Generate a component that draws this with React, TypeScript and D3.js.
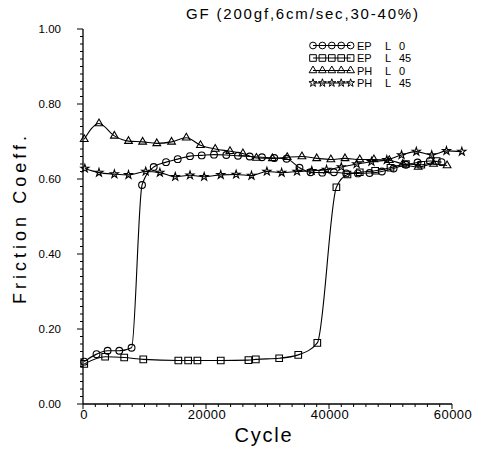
import React from 'react';
import * as d3 from 'd3';

const title = 'GF (200gf,6cm/sec,30-40%)';
const xLabel = 'Cycle';
const yLabel = 'Friction Coeff.';
const xTicks = [0, 20000, 40000, 60000];
const yTicks = [0, 0.2, 0.4, 0.6, 0.8, 1.0];
const seriesNames = ['EP L 0', 'EP L 45', 'PH L 0', 'PH L 45'];
const seriesSymbols = ['circle', 'square', 'triangle', 'star'];

const epL0Cycle = [200, 2200, 4000, 5900, 7900, 9600, 11500, 13500, 15400, 17400, 19300, 21300, 23300, 25200, 27100, 29100, 31100, 33100, 35200, 37000, 38900, 40800, 42800, 44700, 46600, 48600, 50500, 52500, 54400, 56400, 58300];
const epL0Coeff = [0.113, 0.133, 0.142, 0.142, 0.150, 0.584, 0.632, 0.645, 0.653, 0.661, 0.663, 0.665, 0.664, 0.662, 0.660, 0.658, 0.656, 0.654, 0.630, 0.618, 0.617, 0.618, 0.615, 0.615, 0.616, 0.620, 0.628, 0.638, 0.644, 0.648, 0.645];

const epL45Cycle = [200, 3600, 6700, 9800, 15500, 17100, 18600, 22400, 26900, 28100, 31900, 35000, 38100, 41200, 43000, 45000, 47500, 50000, 52500, 55000, 57500];
const epL45Coeff = [0.107, 0.126, 0.124, 0.119, 0.116, 0.116, 0.116, 0.116, 0.117, 0.119, 0.122, 0.131, 0.163, 0.578, 0.612, 0.618, 0.622, 0.630, 0.640, 0.638, 0.648];

const phL0Cycle = [200, 2600, 5100, 7400, 9700, 12000, 14400, 16800, 19100, 21500, 23900, 26000, 28200, 30800, 33200, 35600, 38000, 40300, 42600, 45000, 47300, 49800, 52000, 54500, 57000, 59200];
const phL0Coeff = [0.706, 0.748, 0.715, 0.701, 0.699, 0.695, 0.699, 0.710, 0.690, 0.680, 0.674, 0.668, 0.656, 0.655, 0.658, 0.660, 0.655, 0.652, 0.655, 0.652, 0.652, 0.650, 0.640, 0.632, 0.640, 0.636];

const phL45Cycle = [300, 2600, 5100, 7400, 10200, 12500, 15000, 17400, 19700, 22400, 24900, 27400, 29900, 32300, 34800, 37200, 39600, 42000, 44500, 46900, 49400, 51800, 54200, 56700, 59100, 61600];
const phL45Coeff = [0.628, 0.617, 0.613, 0.611, 0.620, 0.617, 0.606, 0.610, 0.606, 0.611, 0.612, 0.609, 0.620, 0.617, 0.620, 0.622, 0.625, 0.632, 0.640, 0.646, 0.651, 0.664, 0.673, 0.664, 0.675, 0.673];

const seriesCycles = [epL0Cycle, epL45Cycle, phL0Cycle, phL45Cycle];
const seriesCoeffs = [epL0Coeff, epL45Coeff, phL0Coeff, phL45Coeff];

const W = 479;
const H = 450;
const FONT = '"Liberation Sans", Arial, sans-serif';

const x = d3.scaleLinear().domain([0, 60000]).range([83, 452]);
const y = d3.scaleLinear().domain([0, 1]).range([404, 29]);

const symbolPath: Record<string, string> = {
  circle: d3.symbol(d3.symbolCircle, 36)() as string,
  square: d3.symbol(d3.symbolSquare, 44)() as string,
  triangle: d3.symbol(d3.symbolTriangle, 26)() as string,
  star: d3.symbol(d3.symbolStar, 20)() as string,
};

const line = d3
  .line<[number, number]>()
  .x((d) => x(d[0]))
  .y((d) => y(d[1]))
  .curve(d3.curveMonotoneX);

export default function App() {
  const xMinor = d3.range(0, 60001, 2000);
  const yMinor = d3.range(0, 1.0001, 0.02);
  const legendX0 = 313;
  const legendStep = 9.4;
  const legendY0 = 45.5;
  const legendDy = 12.5;

  return (
    <svg
      width={W}
      height={H}
      viewBox={`0 0 ${W} ${H}`}
      style={{ position: 'absolute', left: 0, top: 0, background: '#fff' }}
      fontFamily={FONT}
    >
      <rect x={0} y={0} width={W} height={H} fill="#fff" />
      <text x={302} y={19} fontSize={15} textAnchor="middle" textLength={232} lengthAdjust="spacing" fill="#000">
        {title}
      </text>

      {/* axes */}
      <line x1={x(0)} x2={x(60000)} y1={y(0)} y2={y(0)} stroke="#000" strokeWidth={1.3} />
      <line x1={x(0)} x2={x(0)} y1={y(0)} y2={y(1)} stroke="#000" strokeWidth={1.3} />
      {xMinor.map((v) => {
        const major = v % 20000 === 0;
        return (
          <line key={'xm' + v} x1={x(v)} x2={x(v)} y1={y(0)} y2={y(0) + (major ? 5 : 3)} stroke="#000" strokeWidth={1} />
        );
      })}
      {yMinor.map((v) => {
        const major = Math.abs(Math.round(v * 5) - v * 5) < 1e-6;
        return (
          <line key={'ym' + v} x1={x(0) - (major ? 6 : 3)} x2={x(0)} y1={y(v)} y2={y(v)} stroke="#000" strokeWidth={1} />
        );
      })}
      {xTicks.map((v) => (
        <text key={'xt' + v} x={x(v) + 1} y={419} fontSize={13} textAnchor="middle" fill="#000" letterSpacing={0.5}>
          {String(v)}
        </text>
      ))}
      {yTicks.map((v) => (
        <text key={'yt' + v} x={61} y={y(v) + 4} fontSize={11.5} textAnchor="end" fill="#000">
          {v.toFixed(2)}
        </text>
      ))}
      <text x={263} y={442} fontSize={20} textAnchor="middle" textLength={57} lengthAdjust="spacing" fill="#000">
        {xLabel}
      </text>
      <text
        transform={`translate(26,220) rotate(-90)`}
        fontSize={18}
        textAnchor="middle"
        textLength={168}
        lengthAdjust="spacing"
        fill="#000"
      >
        {yLabel}
      </text>

      {/* series */}
      {seriesCycles.map((cyc, i) => {
        const pts: [number, number][] = cyc.map((c, j) => [c, seriesCoeffs[i][j]]);
        return (
          <g key={'s' + i}>
            <path d={line(pts) as string} fill="none" stroke="#000" strokeWidth={1.1} />
            {pts.map((p, j) => (
              <path
                key={j}
                d={symbolPath[seriesSymbols[i]]}
                transform={`translate(${x(p[0])},${y(p[1])})`}
                fill="none"
                stroke="#000"
                strokeWidth={1.1}
              />
            ))}
          </g>
        );
      })}

      {/* legend */}
      {seriesNames.map((name, i) => {
        const ly = legendY0 + i * legendDy;
        const parts = name.split(' ');
        const partX = [357, 385, 399];
        return (
          <g key={'lg' + i}>
            <line x1={legendX0} x2={legendX0 + 4 * legendStep} y1={ly} y2={ly} stroke="#000" strokeWidth={1.1} />
            {d3.range(5).map((k) => (
              <path
                key={k}
                d={symbolPath[seriesSymbols[i]]}
                transform={`translate(${legendX0 + k * legendStep},${ly})`}
                fill="none"
                stroke="#000"
                strokeWidth={1}
              />
            ))}
            {parts.map((p, k) => (
              <text key={k} x={partX[k]} y={ly + 4} fontSize={11} fill="#000">
                {p}
              </text>
            ))}
          </g>
        );
      })}
    </svg>
  );
}
